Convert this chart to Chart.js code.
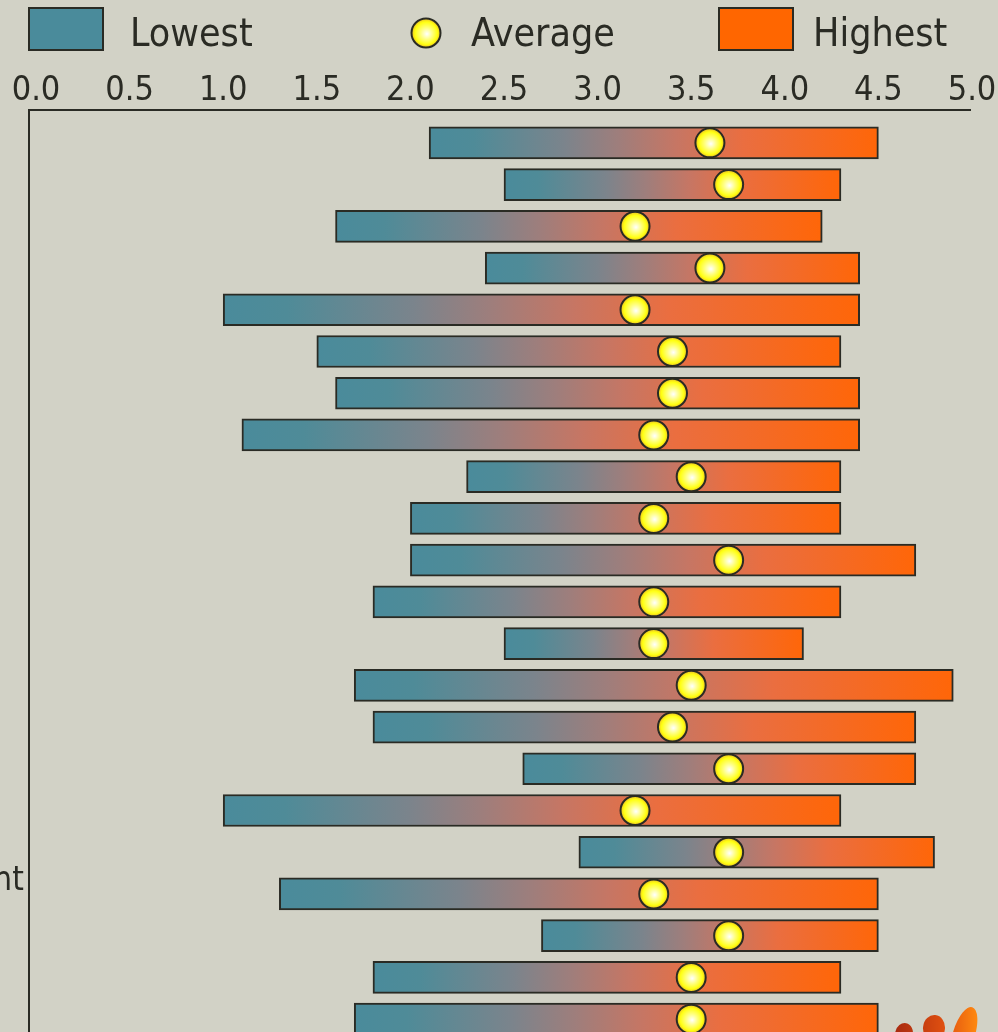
<!DOCTYPE html>
<html>
<head>
<meta charset="utf-8">
<script src="https://cdn.jsdelivr.net/npm/chart.js@4.4.1/dist/chart.umd.min.js"></script>
<style>
  html, body { margin: 0; padding: 0; width: 998px; height: 1032px; overflow: hidden; background: #d2d2c6; }
  #rangeChart { position: absolute; top: 0; }
</style>
</head>
<body>
<canvas id="rangeChart"></canvas>
<script>
// category names (the chart crops them; only the tail of the longest shows)
const CATEGORIES = [
    'Overall satisfaction', 'Quality of service', 'Communication', 'Responsiveness',
    'Value for money', 'Staff knowledge', 'Ease of access', 'Timeliness',
    'Reliability', 'Courtesy', 'Information provided', 'Problem resolution',
    'Flexibility', 'Professionalism', 'Follow-up', 'Facilities',
    'Waiting time', 'Clarity of pricing', 'Commitment to continuous improvement', 'Accuracy',
    'Convenience', 'Recommendation'
];
const LOW  = [2.1, 2.5, 1.6, 2.4, 1.0, 1.5, 1.6, 1.1, 2.3, 2.0, 2.0, 1.8, 2.5, 1.7, 1.8, 2.6, 1.0, 2.9, 1.3, 2.7, 1.8, 1.7];
const HIGH = [4.5, 4.3, 4.2, 4.4, 4.4, 4.3, 4.4, 4.4, 4.3, 4.3, 4.7, 4.3, 4.1, 4.9, 4.7, 4.7, 4.3, 4.8, 4.5, 4.5, 4.3, 4.5];
const AVG  = [3.6, 3.7, 3.2, 3.6, 3.2, 3.4, 3.4, 3.3, 3.5, 3.3, 3.7, 3.3, 3.3, 3.5, 3.4, 3.7, 3.2, 3.7, 3.3, 3.7, 3.5, 3.5];
const LEGEND = ['Lowest', 'Average', 'Highest'];

(function () {
    const FONT = "'Liberation Sans Narrow', 'Arial Narrow', 'DejaVu Sans Condensed', sans-serif";
    const INK = '#2a2b24';
    const TEAL = '#4a8b9b';
    const ORANGE = '#ff6600';
    const CAT_SIZE = 33;

    const el = document.getElementById('rangeChart');

    // measure the widest category label so the plot lands where the reference has it
    const m = document.createElement('canvas').getContext('2d');
    m.font = CAT_SIZE + 'px ' + FONT;
    const widest = Math.max(...CATEGORIES.map(c => m.measureText(c).width));
    const AXIS_W = Math.ceil(widest) + 12;
    const SHIFT = AXIS_W - 36;          // value 0 sits at page x = 36
    el.width = AXIS_W + 936 + 26;
    el.height = 1040;
    el.style.left = (-SHIFT) + 'px';

    const ok = (...v) => v.every(Number.isFinite);

    function barFill(c, x0, x1) {
        if (!ok(x0, x1)) return TEAL;
        const g = c.createLinearGradient(x0, 0, x1, 0);
        g.addColorStop(0, TEAL);
        g.addColorStop(0.1, '#4f8b98');
        g.addColorStop(0.3, '#7b848c');
        g.addColorStop(0.42, '#9e7e7c');
        g.addColorStop(0.55, '#c67664');
        g.addColorStop(0.7, '#ea6e40');
        g.addColorStop(1, '#ff6608');
        return g;
    }

    function ballFill(c, x, y, r) {
        if (!ok(x, y)) return '#ffff00';
        const g = c.createRadialGradient(x + 1, y + 1, 0, x, y, r);
        g.addColorStop(0, '#ffffff');
        g.addColorStop(0.4, '#ffff80');
        g.addColorStop(0.78, '#ffff10');
        g.addColorStop(1, '#e8b828');
        return g;
    }

    const decor = {
        id: 'decor',
        afterDraw(chart) {
            const c = chart.ctx;
            const px = x => x + SHIFT;
            c.save();
            // axis frame
            c.strokeStyle = INK;
            c.lineWidth = 2;
            c.beginPath();
            c.moveTo(px(29), 1040);
            c.lineTo(px(29), 110);
            c.lineTo(px(971), 110);
            c.stroke();

            // legend
            c.fillStyle = TEAL;
            c.fillRect(px(29), 8, 74, 42);
            c.strokeRect(px(29), 8, 74, 42);
            c.fillStyle = ORANGE;
            c.fillRect(px(719), 8, 74, 42);
            c.strokeRect(px(719), 8, 74, 42);
            c.beginPath();
            c.arc(px(426), 33, 14.5, 0, Math.PI * 2);
            c.fillStyle = ballFill(c, px(426), 33, 14.5);
            c.fill();
            c.stroke();
            c.fillStyle = INK;
            c.font = '39px ' + FONT;
            c.textBaseline = 'alphabetic';
            c.textAlign = 'left';
            c.fillText(LEGEND[0], px(130), 46);
            c.fillText(LEGEND[1], px(471), 46);
            c.fillText(LEGEND[2], px(813), 46);

            // logo fragment, bottom right
            const lg = c.createLinearGradient(px(895), 0, px(978), 0);
            lg.addColorStop(0, '#a82a10');
            lg.addColorStop(0.6, '#e05010');
            lg.addColorStop(1, '#ff8a10');
            c.fillStyle = lg;
            c.beginPath();
            c.ellipse(px(904), 1034, 9, 11, 0.2, 0, Math.PI * 2);
            c.fill();
            c.beginPath();
            c.ellipse(px(934), 1028, 11, 13, 0.1, 0, Math.PI * 2);
            c.fill();
            c.beginPath();
            c.ellipse(px(964), 1034, 11, 28, 0.3, 0, Math.PI * 2);
            c.fill();
            c.restore();
        }
    };

    new Chart(el, {
        data: {
            labels: CATEGORIES,
            datasets: [
                {
                    type: 'line',
                    label: LEGEND[1],
                    data: AVG,
                    showLine: false,
                    order: 1,
                    pointRadius: 14.5,
                    pointHoverRadius: 14.5,
                    pointBorderWidth: 2,
                    pointBorderColor: INK,
                    pointBackgroundColor: ctx => {
                        const ch = ctx.chart;
                        if (ctx.type !== 'data' || !ch.scales.x) return '#ffff00';
                        const x = ch.scales.x.getPixelForValue(AVG[ctx.dataIndex]);
                        const y = ch.scales.y.getPixelForValue(ctx.dataIndex);
                        return ballFill(ch.ctx, x, y, 14.5);
                    }
                },
                {
                    type: 'bar',
                    label: 'Range',
                    data: LOW.map((lo, i) => [lo, HIGH[i]]),
                    order: 2,
                    barThickness: 32,
                    borderWidth: 2,
                    borderColor: INK,
                    borderSkipped: false,
                    backgroundColor: ctx => {
                        const ch = ctx.chart;
                        if (ctx.type !== 'data' || !ch.scales.x) return TEAL;
                        const x0 = ch.scales.x.getPixelForValue(LOW[ctx.dataIndex]);
                        const x1 = ch.scales.x.getPixelForValue(HIGH[ctx.dataIndex]);
                        return barFill(ch.ctx, x0, x1);
                    }
                }
            ]
        },
        options: {
            indexAxis: 'y',
            responsive: false,
            animation: false,
            devicePixelRatio: 1,
            layout: { autoPadding: false, padding: { left: 0, right: 26, top: 0, bottom: 0 } },
            plugins: { legend: { display: false }, tooltip: { enabled: false } },
            scales: {
                x: {
                    position: 'top',
                    min: 0,
                    max: 5,
                    grid: { display: false },
                    border: { display: false },
                    ticks: {
                        stepSize: 0.5,
                        autoSkip: false,
                        maxRotation: 0,
                        padding: 2,
                        color: INK,
                        font: { family: FONT, size: 34 },
                        callback: v => Number(v).toFixed(1)
                    },
                    afterFit: s => { s.height = 122; s.paddingLeft = 0; s.paddingRight = 0; }
                },
                y: {
                    grid: { display: false },
                    border: { display: false },
                    ticks: {
                        autoSkip: false,
                        crossAlign: 'far',
                        padding: 12,
                        labelOffset: -13,
                        color: INK,
                        font: { family: FONT, size: CAT_SIZE }
                    },
                    afterFit: s => { s.width = AXIS_W; s.paddingTop = 0; s.paddingBottom = 0; }
                }
            }
        },
        plugins: [decor]
    });
})();
</script>
</body>
</html>
